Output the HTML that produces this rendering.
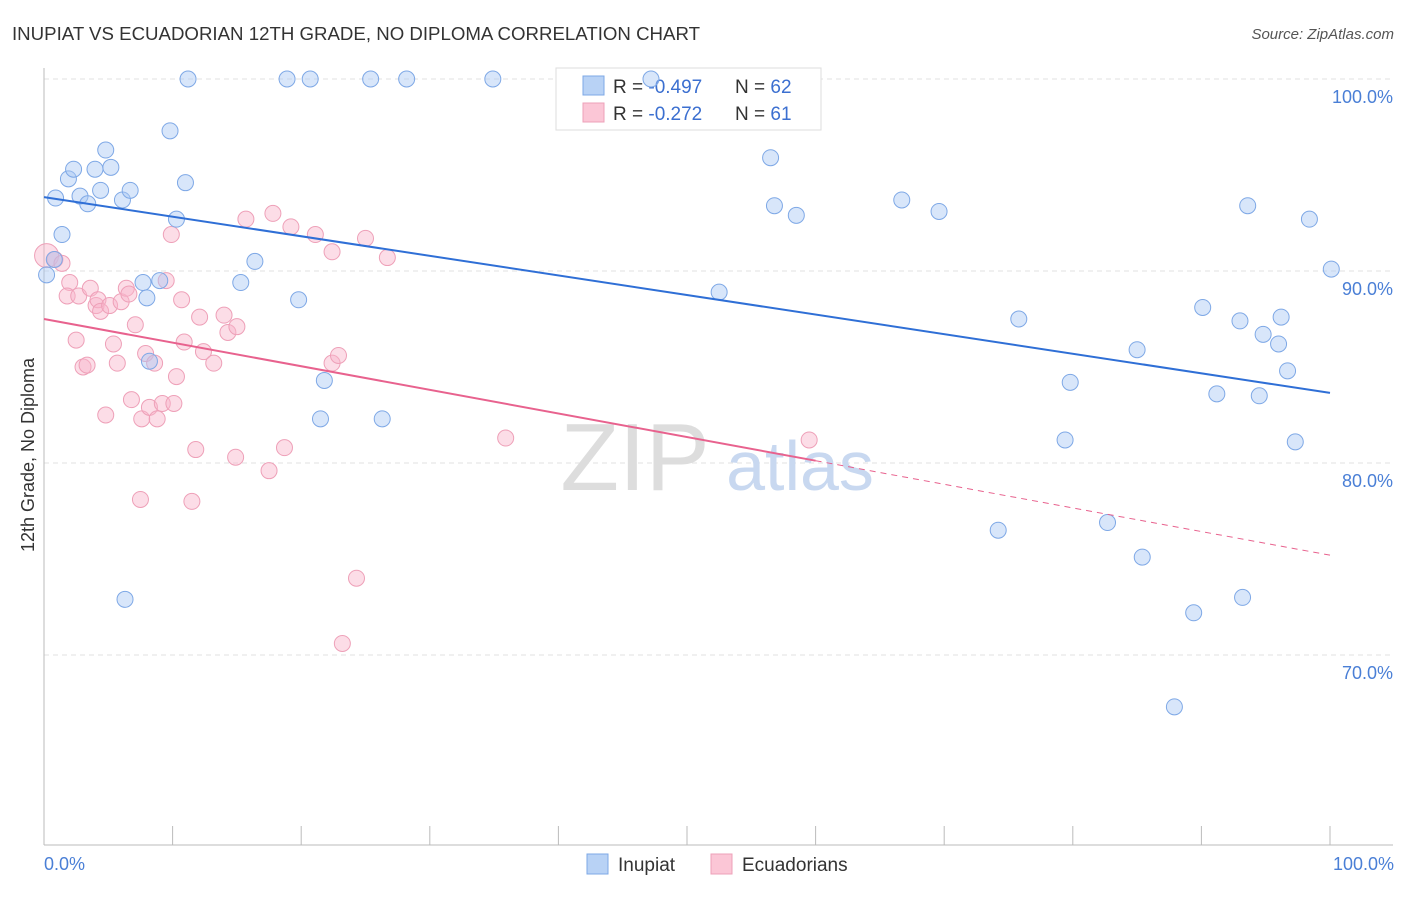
<!DOCTYPE html>
<html><head><meta charset="utf-8"><style>
body{margin:0;background:#fff;font-family:"Liberation Sans",sans-serif;}
svg text{font-family:"Liberation Sans",sans-serif;}
</style></head><body>
<svg id="chart" width="1406" height="892" xmlns="http://www.w3.org/2000/svg">
<text x="12" y="40" font-size="18" fill="#333" textLength="688" lengthAdjust="spacingAndGlyphs">INUPIAT VS ECUADORIAN 12TH GRADE, NO DIPLOMA CORRELATION CHART</text>
<text x="1394" y="39" font-size="15" fill="#555" font-style="italic" text-anchor="end">Source: ZipAtlas.com</text>
<text x="34" y="455" font-size="18" fill="#333" text-anchor="middle" transform="rotate(-90 34 455)">12th Grade, No Diploma</text>
<g id="grid"></g>
<g>
<text x="635" y="490" font-size="96" fill="#ddd" font-family="Liberation Serif" text-anchor="middle">ZIP</text>
<text x="800" y="490" font-size="70" fill="#c8d8f0" text-anchor="middle">atlas</text>
</g>
<g>
<rect x="556" y="68" width="265" height="62" fill="#fff" stroke="#ddd"/>
<rect x="583" y="76" width="21" height="19" fill="#b8d2f5" stroke="#7ea8e6"/>
<rect x="583" y="103" width="21" height="19" fill="#fbc6d6" stroke="#eea0b8"/>
<text x="613" y="93" font-size="19" fill="#333">R = <tspan fill="#3b6fd0">-0.497</tspan><tspan x="735">N = </tspan><tspan fill="#3b6fd0">62</tspan></text>
<text x="613" y="120" font-size="19" fill="#333">R = <tspan fill="#3b6fd0"> -0.272</tspan><tspan x="735">N = </tspan><tspan fill="#3b6fd0"> 61</tspan></text>
</g>
<g id="pts"></g>
<g id="lines"></g>
<g>
<rect x="587" y="854" width="21" height="20" fill="#b8d2f5" stroke="#7ea8e6"/>
<text x="618" y="871" font-size="19" fill="#333">Inupiat</text>
<rect x="711" y="854" width="21" height="20" fill="#fbc6d6" stroke="#eea0b8"/>
<text x="742" y="871" font-size="19" fill="#333">Ecuadorians</text>
</g>
</svg>
<script>
const yTicks=[100,90,80,70];
const xTickLabels=["0.0%","100.0%"];
const blueX=[0.9,1.4,1.9,2.3,2.8,3.4,3.966,4.4,4.8,5.2,6.1,6.7,9.8,11,11.2,10.3,7.7,8,9,8.2,6.3,15.3,16.4,18.9,20.7,19.8,21.8,21.5,25.4,28.2,26.3,34.9,47.2,52.5,56.5,56.8,58.5,66.7,69.6,75.8,79.8,79.4,74.2,82.7,85,85.4,90.1,89.4,91.2,93,93.6,93.2,94.8,94.5,96,96.2,96.7,97.3,98.4,100.1,87.9,0.2,0.8];
const blueY=[93.8,91.9,94.8,95.3,93.9,93.5,95.3,94.2,96.3,95.4,93.7,94.2,97.3,94.6,100,92.7,89.4,88.6,89.5,85.3,72.9,89.4,90.5,100,100,88.5,84.3,82.3,100,100,82.3,100,100,88.9,95.9,93.4,92.9,93.7,93.1,87.5,84.2,81.2,76.5,76.9,85.9,75.1,88.1,72.2,83.6,87.4,93.4,73,86.7,83.5,86.2,87.6,84.8,81.1,92.7,90.1,67.3,89.8,90.6];
const pinkX=[0.2,0.85,1.4,2,1.8,2.5,2.7,3.035,3.35,3.6,4.05,4.2,4.4,4.8,5.1,5.4,5.7,6,6.4,6.6,6.8,7.1,7.5,7.6,7.9,8.2,8.6,8.8,9.2,9.5,9.9,10.1,10.3,10.7,10.9,11.5,11.8,12.1,12.4,13.2,14,14.3,14.9,15,15.7,17.5,17.8,18.7,19.2,21.1,22.4,22.4,22.9,24.3,23.2,25,26.7,35.9,59.5];
const pinkY=[90.8,90.6,90.4,89.4,88.7,86.4,88.7,85,85.1,89.1,88.2,88.5,87.9,82.5,88.2,86.2,85.2,88.4,89.1,88.8,83.3,87.2,78.1,82.3,85.7,82.9,85.2,82.3,83.1,89.5,91.9,83.1,84.5,88.5,86.3,78,80.7,87.6,85.8,85.2,87.7,86.8,80.3,87.1,92.7,79.6,93,80.8,92.3,91.9,91,85.2,85.6,74,70.6,91.7,90.7,81.3,81.2];
const X=v=>44+v*12.86, Y=v=>79+(100-v)*19.2;
const NS="http://www.w3.org/2000/svg";
const mk=(t,a,p)=>{const e=document.createElementNS(NS,t);for(const k in a)e.setAttribute(k,a[k]);p.appendChild(e);return e;};
const g=document.getElementById('grid');
yTicks.forEach((t,i)=>{
 const l=mk('line',{x1:44,x2:1393,y1:Y(t),y2:Y(t),stroke:'#e2e2e2','stroke-dasharray':'5,4'},g);
 
 
 const tx=mk('text',{x:1393,y:Y(t)+24,'font-size':18,fill:'#4a7fd6','text-anchor':'end'},g);
 tx.textContent=t.toFixed(1)+'%';
 
 
});
const ax=mk('line',{x1:44,x2:1393,y1:845,y2:845,stroke:'#bbb'},g);


const ay=mk('line',{x1:44,x2:44,y1:68,y2:845,stroke:'#bbb'},g);


for(let i=0;i<=10;i++){const tk=mk('line',{x1:X(i*10),x2:X(i*10),y1:826,y2:845,stroke:'#bbb'},g);
 
 }
const t0=mk('text',{x:44,y:870,'font-size':18,fill:'#4a7fd6'},g);t0.textContent=xTickLabels[0];


const t1=mk('text',{x:1394,y:870,'font-size':18,fill:'#4a7fd6','text-anchor':'end'},g);t1.textContent=xTickLabels[1];


const pts=document.getElementById('pts');
pinkX.forEach((x,i)=>{const c=mk('circle',{cx:X(x),cy:Y(pinkY[i]),r:i==0?12:8,fill:'rgba(248,180,202,0.45)',stroke:'#eea0b8','stroke-width':1},pts);
 
 });
blueX.forEach((x,i)=>{const c=mk('circle',{cx:X(x),cy:Y(blueY[i]),r:8,fill:'rgba(168,200,244,0.45)',stroke:'#7ea8e6','stroke-width':1},pts);
 
 });
const L=document.getElementById('lines');
const bl=mk('line',{x1:X(0),y1:Y(93.85),x2:X(100),y2:Y(83.65),stroke:'#2f6fd6','stroke-width':2},L);


const pf=p=>87.5-12.3*p/100;
const pl=mk('line',{x1:X(0),y1:Y(pf(0)),x2:X(60),y2:Y(pf(60)),stroke:'#e8628e','stroke-width':2},L);


const pd=mk('line',{x1:X(60),y1:Y(pf(60)),x2:X(100),y2:Y(pf(100)),stroke:'#e8628e','stroke-width':1,'stroke-dasharray':'6,5'},L);


</script>
</body></html>
